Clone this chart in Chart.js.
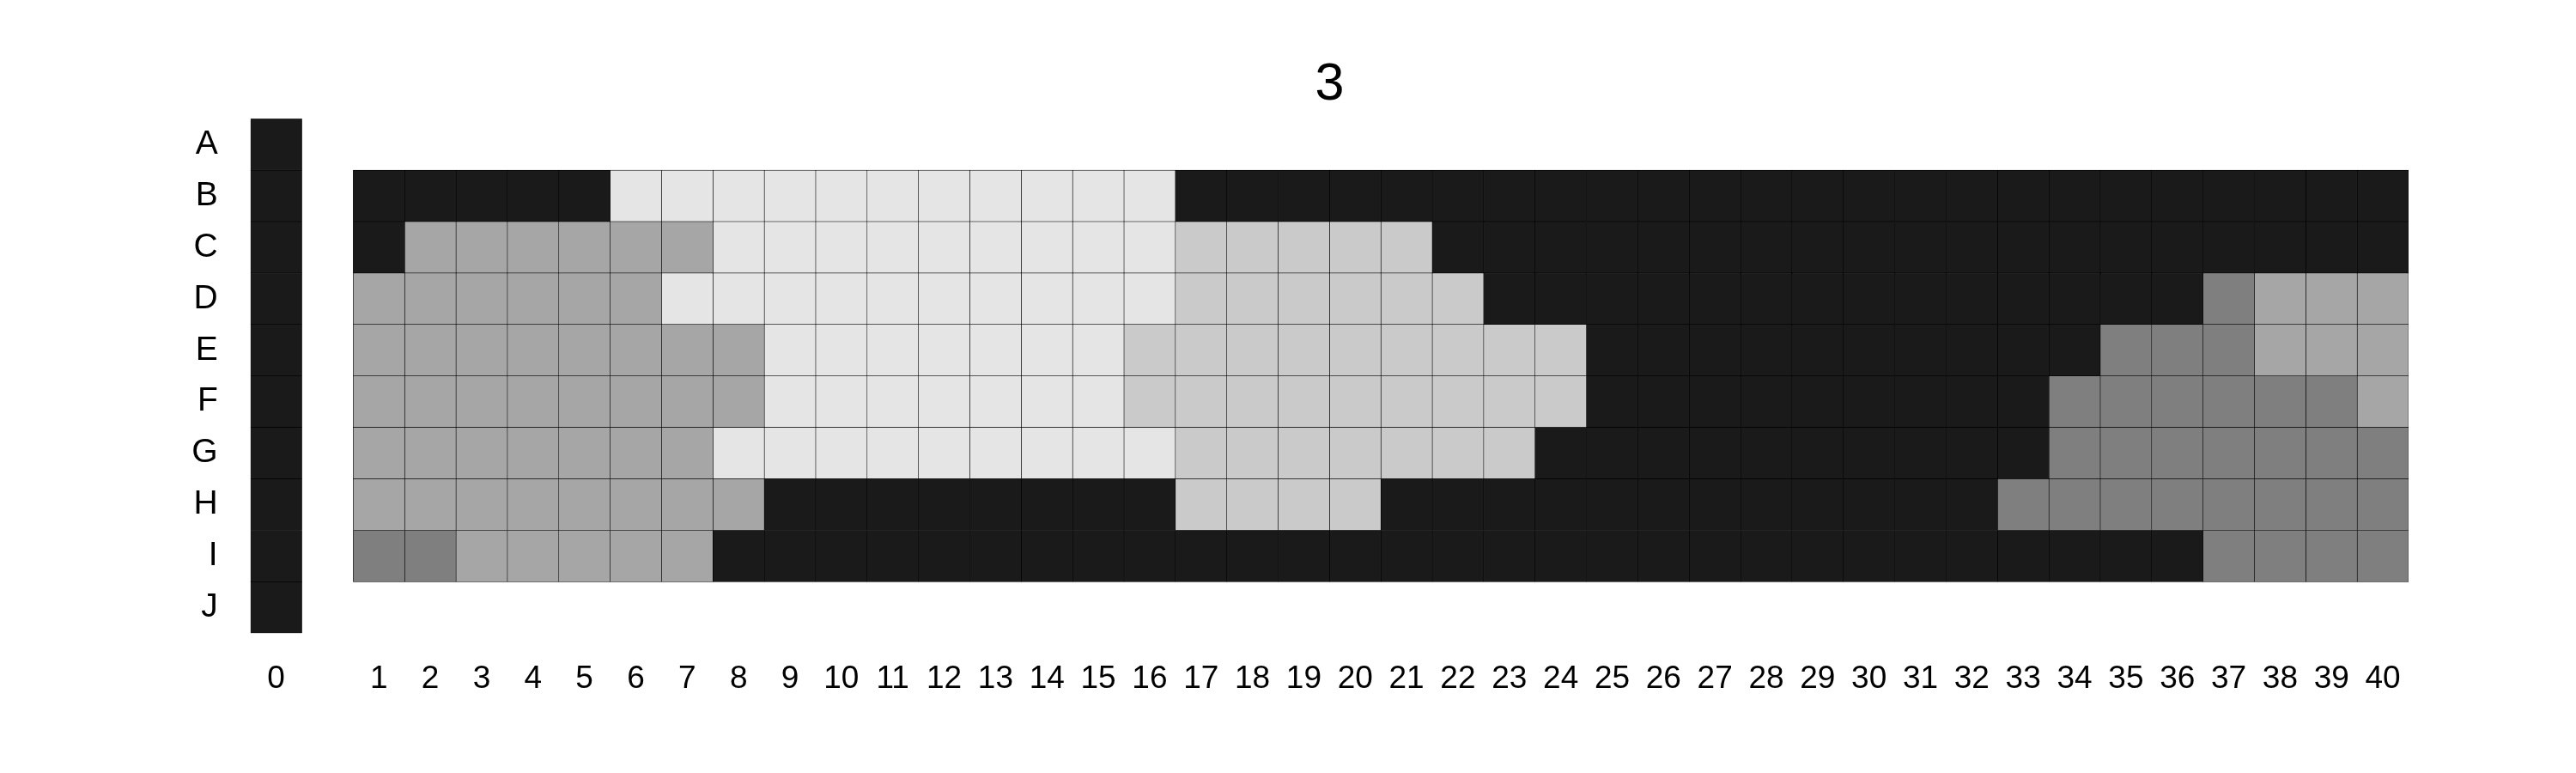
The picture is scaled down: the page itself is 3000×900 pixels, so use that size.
<!DOCTYPE html>
<html>
<head>
<meta charset="utf-8">
<script src="https://cdn.jsdelivr.net/npm/chart.js@4/dist/chart.umd.min.js"></script>
<style>
  html, body { margin: 0; padding: 0; background: #fff; }
  #wrap { width: 3000px; height: 900px; }
</style>
</head>
<body>
<div id="wrap"><canvas id="grid" width="3000" height="900"></canvas></div>
<script>
// row / column labels
const rowLabels = ['A', 'B', 'C', 'D', 'E', 'F', 'G', 'H', 'I', 'J'];
const colLabels = ['0', '1', '2', '3', '4', '5', '6', '7', '8', '9', '10',
  '11', '12', '13', '14', '15', '16', '17', '18', '19', '20',
  '21', '22', '23', '24', '25', '26', '27', '28', '29', '30',
  '31', '32', '33', '34', '35', '36', '37', '38', '39', '40'];
// where each column sits on the x axis (column 0 is set apart by one cell)
const colPos = [-1, 1, 2, 3, 4, 5, 6, 7, 8, 9, 10,
  11, 12, 13, 14, 15, 16, 17, 18, 19, 20,
  21, 22, 23, 24, 25, 26, 27, 28, 29, 30,
  31, 32, 33, 34, 35, 36, 37, 38, 39, 40];

// shade level per cell: first char is column 0, then columns 1..40 in groups of ten
// '.' = no cell
const gridRows = [
  '0 .......... .......... .......... ..........', // A
  '0 0000044444 4444440000 0000000000 0000000000', // B
  '0 0222222444 4444443333 3000000000 0000000000', // C
  '0 2222224444 4444443333 3300000000 0000001222', // D
  '0 2222222244 4444433333 3333000000 0000111222', // E
  '0 2222222244 4444433333 3333000000 0001111112', // F
  '0 2222222444 4444443333 3330000000 0001111111', // G
  '0 2222222200 0000003333 0000000000 0011111111', // H
  '0 1122222000 0000000000 0000000000 0000001111', // I
  '0 .......... .......... .......... ..........'  // J
].map(s => s.replace(/ /g, ''));

const shadeColors = {
  '0': '#1a1a1a',
  '1': '#7f7f7f',
  '2': '#a6a6a6',
  '3': '#cacaca',
  '4': '#e5e5e5'
};

const datasets = colLabels.map((lab, i) => ({
  label: lab,
  data: gridRows.map(r => r[i] === '.' ? null : [colPos[i] - 0.5, colPos[i] + 0.5]),
  backgroundColor: gridRows.map(r => shadeColors[r[i]] || 'transparent'),
  borderColor: '#000',
  borderWidth: 0.6,
  borderSkipped: false,
  barPercentage: 1,
  categoryPercentage: 1,
  grouped: false
}));

const fontFamily = '"Liberation Sans", Arial, Helvetica, sans-serif';

new Chart(document.getElementById('grid').getContext('2d'), {
  type: 'bar',
  data: { labels: rowLabels, datasets: datasets },
  options: {
    indexAxis: 'y',
    responsive: false,
    animation: false,
    devicePixelRatio: 1,
    layout: { padding: { left: 0, right: 195, top: 0, bottom: 0 } },
    plugins: {
      legend: { display: false },
      tooltip: { enabled: false },
      title: {
        display: true,
        text: '3',
        color: '#000',
        fullSize: false,
        font: { family: fontFamily, size: 61, weight: 'normal', lineHeight: 1.2 },
        padding: { top: 63, bottom: 2 }
      }
    },
    scales: {
      x: {
        type: 'linear',
        min: -1.5,
        max: 40.5,
        border: { display: false },
        grid: { display: false, drawTicks: false },
        afterBuildTicks: (scale) => {
          scale.ticks = colPos.map(v => ({ value: v }));
        },
        afterFit: (scale) => { scale.height = 162.7; },
        ticks: {
          autoSkip: false,
          maxRotation: 0,
          padding: 31,
          color: '#000',
          font: { family: fontFamily, size: 37 },
          callback: (value) => colLabels[colPos.indexOf(value)]
        }
      },
      y: {
        type: 'category',
        border: { display: false },
        grid: { display: false, drawTicks: false },
        afterFit: (scale) => { scale.width = 291.7; },
        ticks: {
          padding: 38,
          color: '#000',
          font: { family: fontFamily, size: 39 }
        }
      }
    }
  }
});
</script>
</body>
</html>
